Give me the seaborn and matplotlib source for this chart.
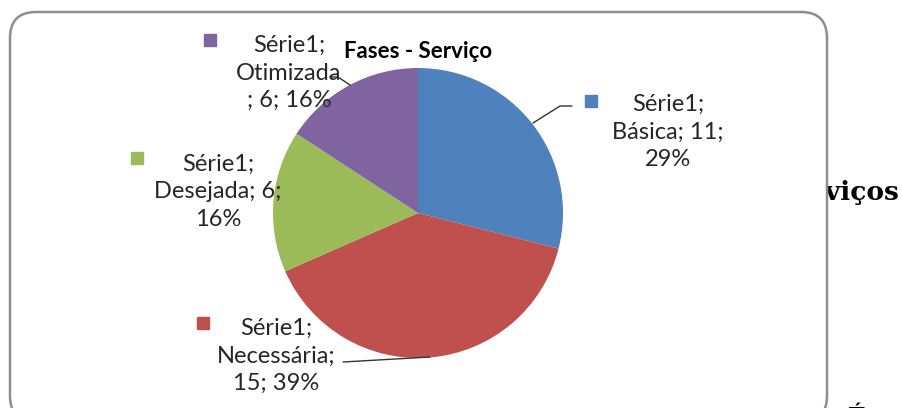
import matplotlib
matplotlib.use("Agg")
import matplotlib.pyplot as plt
import seaborn as sns
from matplotlib.patches import FancyBboxPatch

# data
series_name = "Série1"
categories = ["Básica", "Necessária", "Desejada", "Otimizada"]
values = [11, 15, 6, 6]
hex_colors = ["#4F81BD", "#C0504D", "#9BBB59", "#8064A2"]
title = "Fases - Serviço"

# layout (pixels, origin top-left)
W, H = 902, 408
cx, cy, R = 418, 213, 145
label_fmt = {
    "Básica": "{s};\n{c}; {v};\n{p}%",
    "Necessária": "{s};\n{c};\n{v}; {p}%",
    "Desejada": "{s};\n{c}; {v};\n{p}%",
    "Otimizada": "{s};\n{c}\n; {v}; {p}%",
}
label_pos = {"Básica": (668, 132), "Necessária": (276, 356),
             "Desejada": (218, 192), "Otimizada": (289, 73)}
marker_pos = {"Básica": (591, 101), "Necessária": (203, 323),
              "Desejada": (137, 158), "Otimizada": (210, 40)}
leaders = {"Básica": [(533, 123), (560, 106), (572, 106)],
           "Otimizada": [(330, 77), (338, 77), (350, 85)],
           "Necessária": [(343, 362), (430, 357)]}

sns.set_theme(style="white")
plt.rcParams["font.family"] = ["Lato", "DejaVu Sans"]
colors = sns.color_palette(hex_colors)

fig = plt.figure(figsize=(W / 100, H / 100), dpi=100)

# background: text hidden behind the chart box, and the box itself
bg = fig.add_axes([0, 0, 1, 1], zorder=0)
bg.set_xlim(0, W)
bg.set_ylim(H, 0)
bg.axis("off")
bg.text(899, 200, "Serviços", ha="right", va="baseline", fontsize=19,
        fontweight="bold", family="DejaVu Serif", color="black", zorder=1)
bg.text(857, 406, "É", ha="center", va="top", fontsize=17,
        fontweight="bold", family="DejaVu Serif", color="black", zorder=1)
box = FancyBboxPatch((10, 12), 817, 410, boxstyle="round,pad=0,rounding_size=26",
                     facecolor="white", edgecolor="#8e8e8e", linewidth=1.8, zorder=2)
bg.add_patch(box)

# pie
ax = fig.add_axes([(cx - R) / W, (H - cy - R) / H, 2 * R / W, 2 * R / H], zorder=1)
ax.pie(values, colors=colors, startangle=90, counterclock=False,
       wedgeprops=dict(linewidth=0))
ax.set_xlim(-1, 1)
ax.set_ylim(-1, 1)
ax.set_aspect("equal")
ax.axis("off")

# foreground: title, labels, leader lines
fg = fig.add_axes([0, 0, 1, 1], zorder=2)
fg.set_xlim(0, W)
fg.set_ylim(H, 0)
fg.axis("off")
fg.patch.set_alpha(0)
fg.text(418, 51, title, ha="center", va="center", fontsize=16, fontweight="bold",
        color="black")

total = sum(values)
for cat, val, col in zip(categories, values, colors):
    pct = round(100 * val / total)
    txt = label_fmt[cat].format(s=series_name, c=cat, v=val, p=pct)
    x, y = label_pos[cat]
    fg.text(x, y, txt, ha="center", va="center", multialignment="center",
            fontsize=17, linespacing=1.38, color="#262626")
    mx, my = marker_pos[cat]
    fg.plot([mx], [my], marker="s", ms=9, color=col, linestyle="none")
    if cat in leaders:
        xs, ys = zip(*leaders[cat])
        fg.plot(xs, ys, color="#333333", linewidth=1)

fig.savefig("out.png", dpi=100)
